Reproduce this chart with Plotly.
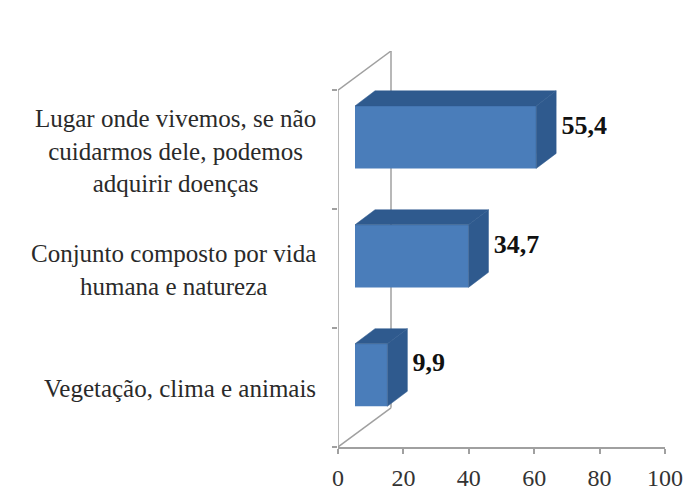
import plotly.graph_objects as go

categories = [
    "Vegetação, clima e animais",
    "Conjunto composto por vida<br>humana e natureza",
    "Lugar onde vivemos, se não<br>cuidarmos dele, podemos<br>adquirir doenças",
]
values = [9.9, 34.7, 55.4]
value_labels = ["9,9", "34,7", "55,4"]
x_ticks = [0, 20, 40, 60, 80, 100]
y_ticks = [0, 1, 2, 3]

FRONT = "#4a7dba"
SHADE = "#2f5a8e"
AXIS = "#a0a0a0"
TEXT = "#2a2a2a"
SERIF = "Liberation Serif"

# 3-D projection, in axis units
X_PER_PX = 100 / 327
Y_PER_PX = 3 / 355
off_x = 17 * X_PER_PX      # front face start
bar_bottom = 0.342
bar_h = 0.526
depth_x = 20 * X_PER_PX
depth_y = 15 * Y_PER_PX
wall_x = 53 * X_PER_PX
wall_y = 39 * Y_PER_PX

fig = go.Figure()

for i, v in enumerate(values):
    b = i + bar_bottom
    t = b + bar_h
    r = off_x + v
    # top face
    fig.add_trace(go.Scatter(
        x=[off_x, r, r + depth_x, off_x + depth_x, off_x],
        y=[t, t, t + depth_y, t + depth_y, t],
        mode="lines", fill="toself", fillcolor=SHADE,
        line=dict(color=SHADE, width=0.5), hoverinfo="skip", showlegend=False))
    # side face
    fig.add_trace(go.Scatter(
        x=[r, r + depth_x, r + depth_x, r, r],
        y=[b, b + depth_y, t + depth_y, t, b],
        mode="lines", fill="toself", fillcolor=SHADE,
        line=dict(color=SHADE, width=0.5), hoverinfo="skip", showlegend=False))

# front faces
fig.add_trace(go.Bar(
    x=values, y=[i + bar_bottom + bar_h / 2 for i in range(len(values))],
    base=off_x, width=bar_h, orientation="h",
    marker=dict(color=FRONT, line=dict(width=0)), showlegend=False))

# data labels
fig.add_trace(go.Scatter(
    x=[off_x + v + depth_x + 1.6 for v in values],
    y=[i + 0.69 for i in range(len(values))],
    mode="text", text=[f"<b>{s}</b>" for s in value_labels],
    textposition="middle right",
    textfont=dict(family=SERIF, size=26, color="#111111"),
    hoverinfo="skip", showlegend=False, cliponaxis=False))

# walls
wall_lines = [
    (0, 0, 0, 3),
    (0, 3, wall_x, 3 + wall_y),
    (wall_x, 3 + wall_y, wall_x, wall_y),
    (0, 0, wall_x, wall_y),
]
for x0, y0, x1, y1 in wall_lines:
    fig.add_shape(type="line", x0=x0, y0=y0, x1=x1, y1=y1, xref="x", yref="y",
                  line=dict(color=AXIS, width=1.5), layer="below")

# category labels
for i, c in enumerate(categories):
    fig.add_annotation(
        x=0, y=i + 0.49, xref="x", yref="y", text=c, showarrow=False,
        xanchor="right", yanchor="middle", align="center", xshift=-20,
        font=dict(family=SERIF, size=25, color=TEXT))

fig.update_layout(
    width=686, height=503, autosize=False,
    margin=dict(l=338, r=21, t=51, b=56),
    paper_bgcolor="white", plot_bgcolor="white",
    barmode="overlay", showlegend=False,
    xaxis=dict(range=[0, 100], tickvals=x_ticks, showgrid=False, zeroline=False,
               showline=True, linecolor=AXIS, linewidth=2, automargin=False,
               ticks="outside", ticklen=5, tickcolor=AXIS, tickwidth=1.5,
               ticklabelstandoff=3,
               tickfont=dict(family=SERIF, size=24, color="#333333")),
    yaxis=dict(range=[0, 3 + wall_y], tickvals=y_ticks, showticklabels=False,
               showgrid=False, zeroline=False, showline=False, automargin=False,
               ticks="outside", ticklen=5, tickcolor=AXIS, tickwidth=1.5),
)

fig.write_html("out.html", config={"displayModeBar": False},
               post_script="document.body.style.margin='0';")
